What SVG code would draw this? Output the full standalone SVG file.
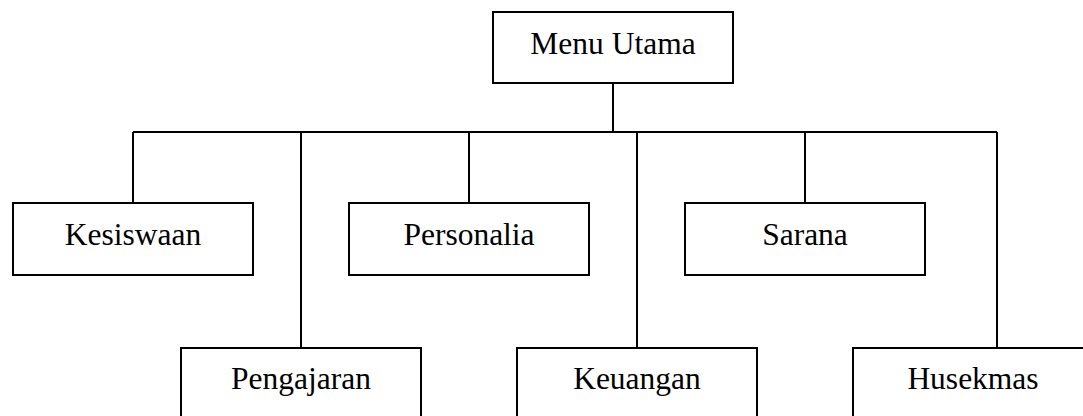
<svg xmlns="http://www.w3.org/2000/svg" width="1083" height="416" viewBox="0 0 1083 416">
  <style>
    .box { fill: #ffffff; stroke: #000000; stroke-width: 2; }
    .lbl { font-family: "Liberation Serif", "Times New Roman", serif; font-size: 31.5px; fill: #000000; text-anchor: middle; }
    .wire { fill: none; stroke: #000000; stroke-width: 2; }
  </style>
  <rect width="1083" height="416" fill="#ffffff"/>

  <!-- connectors -->
  <g id="connectors">
    <line class="wire" x1="613" y1="83" x2="613" y2="132"/>
    <line class="wire" x1="133" y1="132" x2="997" y2="132"/>
    <line class="wire" x1="133" y1="132" x2="133" y2="203"/>
    <line class="wire" x1="301" y1="132" x2="301" y2="348"/>
    <line class="wire" x1="469" y1="132" x2="469" y2="203"/>
    <line class="wire" x1="637" y1="132" x2="637" y2="348"/>
    <line class="wire" x1="805" y1="132" x2="805" y2="203"/>
    <line class="wire" x1="997" y1="132" x2="997" y2="348"/>
  </g>

  <!-- root -->
  <g id="menu-utama">
    <rect class="box" x="493" y="12" width="240" height="71"/>
    <text class="lbl" x="613" y="54">Menu Utama</text>
  </g>

  <!-- upper row -->
  <g id="kesiswaan">
    <rect class="box" x="13" y="203" width="240" height="72"/>
    <text class="lbl" x="133" y="245">Kesiswaan</text>
  </g>
  <g id="personalia">
    <rect class="box" x="349" y="203" width="240" height="72"/>
    <text class="lbl" x="469" y="245">Personalia</text>
  </g>
  <g id="sarana">
    <rect class="box" x="685" y="203" width="240" height="72"/>
    <text class="lbl" x="805" y="245">Sarana</text>
  </g>

  <!-- lower row -->
  <g id="pengajaran">
    <rect class="box" x="181" y="348" width="240" height="80"/>
    <text class="lbl" x="301" y="389">Pengajaran</text>
  </g>
  <g id="keuangan">
    <rect class="box" x="517" y="348" width="240" height="80"/>
    <text class="lbl" x="637" y="389">Keuangan</text>
  </g>
  <g id="husekmas">
    <rect class="box" x="853" y="348" width="240" height="80"/>
    <text class="lbl" x="973" y="389">Husekmas</text>
  </g>
</svg>
